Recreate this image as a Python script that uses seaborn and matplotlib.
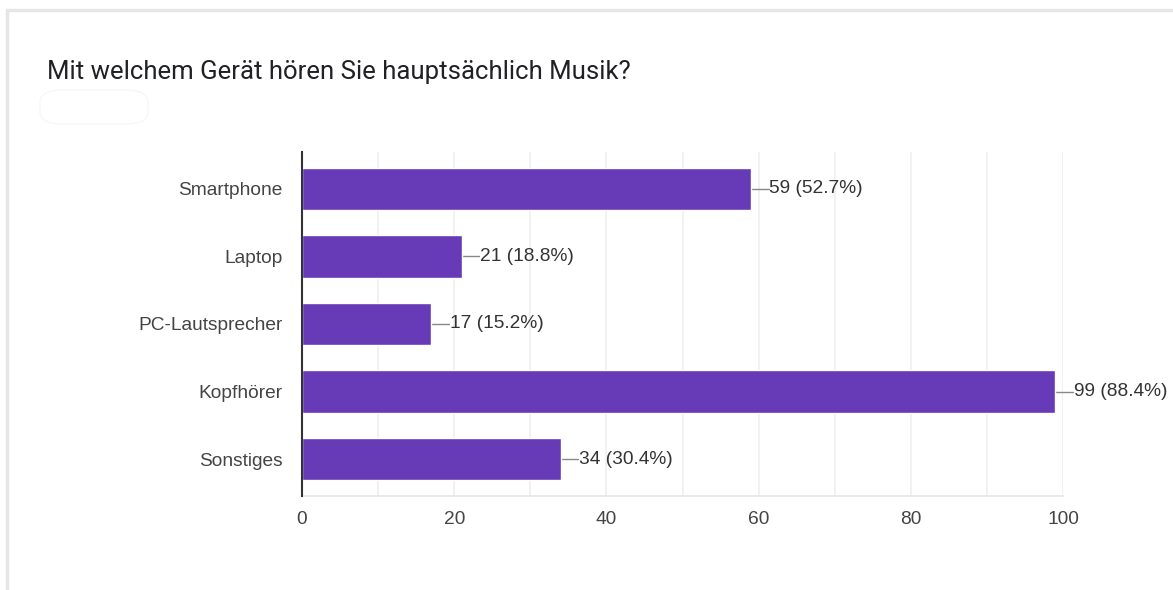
import matplotlib.pyplot as plt
from matplotlib.patches import Rectangle, FancyBboxPatch
import pandas as pd
import seaborn as sns

# survey results
devices = ['Smartphone', 'Laptop', 'PC-Lautsprecher', 'Kopfhörer', 'Sonstiges']
counts = [59, 21, 17, 99, 34]
percents = [52.7, 18.8, 15.2, 88.4, 30.4]
x_ticks = [0, 20, 40, 60, 80, 100]

BAR_COLOR = '#673AB7'

sns.set_theme(style='white')
plt.rcParams['font.family'] = ['Liberation Sans', 'DejaVu Sans']

df = pd.DataFrame({'device': devices, 'count': counts})

fig = plt.figure(figsize=(11.73, 5.9), dpi=100)
ax = fig.add_axes([0.2575, 0.1593, 0.6488, 0.5831])

sns.barplot(data=df, x='count', y='device', orient='h', color=BAR_COLOR,
            saturation=1, width=0.63, ax=ax, zorder=3)

ax.set_xlim(0, 100)
ax.set_xticks(x_ticks)
ax.set_xticks(range(0, 101, 10), minor=True)
ax.grid(axis='x', which='both', color='#efefef', linewidth=1.2, zorder=0)
ax.set_xlabel('')
ax.set_ylabel('')
ax.tick_params(axis='both', length=0, labelsize=13.8, labelcolor='#444444')
ax.tick_params(axis='y', pad=14)
ax.tick_params(axis='x', pad=11)

for side in ['top', 'right']:
    ax.spines[side].set_visible(False)
ax.spines['left'].set_color('#333333')
ax.spines['left'].set_linewidth(1.5)
ax.spines['left'].set_zorder(4)
ax.spines['bottom'].set_color('#e6e6e6')
ax.spines['bottom'].set_linewidth(1.2)

# value labels with a short leader line
for i, (c, p) in enumerate(zip(counts, percents)):
    ax.plot([c, c + 2.3], [i, i], color='#888888', linewidth=1,
            clip_on=False, zorder=2)
    ax.text(c + 2.4, i, f'{c} ({p}%)', va='center', ha='left',
            fontsize=13.8, color='#333333', clip_on=False)

# card frame and title
fig.patches.append(Rectangle((7 / 1173, -0.1), 1.2, 1.1 - 10 / 590,
                             transform=fig.transFigure, fill=False,
                             edgecolor='#e6e6e6', linewidth=2.5))
fig.patches.append(FancyBboxPatch((40 / 1173, 1 - 124 / 590), 108 / 1173, 34 / 590,
                                  boxstyle='round,pad=0,rounding_size=0.02',
                                  transform=fig.transFigure, fill=False,
                                  edgecolor='#f7f7f7', linewidth=1))
fig.text(47 / 1173, 1 - 79 / 590, 'Mit welchem Gerät hören Sie hauptsächlich Musik?',
         fontsize=18.5, color='#202124', family=['Roboto', 'DejaVu Sans'],
         ha='left', va='baseline')

fig.savefig('out.png', dpi=100, facecolor='white')
